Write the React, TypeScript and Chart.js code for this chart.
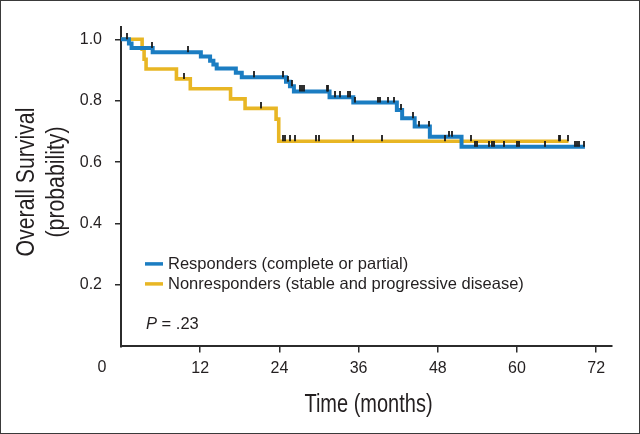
import React, { useEffect, useRef } from 'react';
import { Chart, registerables } from 'chart.js';

Chart.register(...registerables);

// Kaplan-Meier step data (months, survival probability)
const respTimes = [0, 1.2, 1.6, 4.8, 12.1, 13.5, 14.0, 14.5, 17.4, 18.3, 25.0, 25.6, 26.2, 31.6, 35.2, 41.8, 42.6, 44.5, 46.8, 51.6, 70.3];
const respSurv = [1.0, 0.986, 0.972, 0.958, 0.944, 0.930, 0.918, 0.905, 0.891, 0.876, 0.862, 0.847, 0.830, 0.811, 0.794, 0.770, 0.743, 0.716, 0.683, 0.650, 0.650];
const nonTimes = [0, 3.2, 3.5, 3.8, 8.4, 10.5, 16.6, 18.8, 23.5, 23.9, 67.8];
const nonSurv = [1.0, 0.968, 0.935, 0.903, 0.871, 0.839, 0.806, 0.775, 0.740, 0.668, 0.668];

// Censoring marks (months)
const respCensor = [0.95, 4.65, 10.1, 20.2, 24.6, 25.3, 25.9, 27.1, 27.4, 27.8, 31.2, 31.4, 32.4, 33.2, 34.4, 34.7, 35.4, 39.0, 39.2, 40.5, 41.3, 42.5, 44.3, 45.2, 46.6, 49.7, 50.2, 53.6, 54.0, 55.8, 56.2, 56.5, 58.0, 60.0, 60.3, 64.2, 68.8, 69.1, 69.4, 70.2];
const nonCensor = [9.6, 21.2, 24.6, 24.8, 25.6, 26.4, 29.5, 30.0, 35.2, 39.5, 49.1, 53.0, 66.3, 66.5, 67.8];

const xTicks = [12, 24, 36, 48, 60, 72];
const yTicks = [0.2, 0.4, 0.6, 0.8, 1.0];
const seriesLabels = ['Responders (complete or partial)', 'Nonresponders (stable and progressive disease)'];
const pLabel = 'P';
const pValue = ' = .23';
const xTitle = 'Time (months)';
const yTitle = ['Overall Survival', '(probability)'];

const BLUE = '#1b7dc2';
const YELLOW = '#e8b624';
const INK = '#231f20';
const SANS = '"Liberation Sans", Arial, sans-serif';
const SQUEEZE_Y = 0.85;
const SQUEEZE_X = 0.8;

function levelAt(times: number[], surv: number[], t: number) {
  let v = surv[0];
  for (let i = 0; i < times.length; i++) if (times[i] <= t) v = surv[i];
  return v;
}

const decor = {
  id: 'decor',
  beforeDraw(chart: any) {
    const ctx = chart.ctx;
    ctx.save();
    ctx.fillStyle = '#ffffff';
    ctx.fillRect(0, 0, chart.width, chart.height);
    ctx.restore();
  },
  afterDraw(chart: any) {
    const ctx = chart.ctx;
    const xs = chart.scales.x;
    const area = chart.chartArea;
    ctx.save();
    // "0" label at origin
    ctx.font = `16px ${SANS}`;
    ctx.fillStyle = INK;
    ctx.textAlign = 'center';
    ctx.textBaseline = 'top';
    ctx.fillText('0', xs.getPixelForValue(0) - 19, xs.top + 13);

    // axis titles (condensed look)
    ctx.font = `25px ${SANS}`;
    ctx.textBaseline = 'middle';
    ctx.save();
    ctx.translate((area.left + area.right) / 2 + 2, 405);
    ctx.scale(SQUEEZE_X, 1);
    ctx.fillText(xTitle, 0, 0);
    ctx.restore();
    const yc = 182;
    [27, 57].forEach((xc, i) => {
      ctx.save();
      ctx.translate(xc, yc);
      ctx.rotate(-Math.PI / 2);
      ctx.scale(SQUEEZE_Y, 1);
      ctx.fillText(yTitle[i], 0, 0);
      ctx.restore();
    });

    // legend
    const colors = [BLUE, YELLOW];
    const ys = [area.bottom - 82.5, area.bottom - 62.5];
    ctx.textAlign = 'left';
    ctx.textBaseline = 'middle';
    ctx.font = `16.5px ${SANS}`;
    seriesLabels.forEach((lab, i) => {
      ctx.strokeStyle = colors[i];
      ctx.lineWidth = 3.5;
      ctx.beginPath();
      ctx.moveTo(area.left + 24, ys[i]);
      ctx.lineTo(area.left + 42, ys[i]);
      ctx.stroke();
      ctx.fillStyle = INK;
      ctx.fillText(lab, area.left + 47, ys[i] + 1);
    });
    // P value
    const py = area.bottom - 21.5;
    ctx.font = `italic 16.5px ${SANS}`;
    ctx.fillText(pLabel, area.left + 25, py);
    const w = ctx.measureText(pLabel).width;
    ctx.font = `16.5px ${SANS}`;
    ctx.fillText(pValue, area.left + 25 + w, py);
    // outer frame
    ctx.strokeStyle = '#3a3a3a';
    ctx.lineWidth = 1;
    ctx.strokeRect(0.5, 0.5, chart.width - 1, chart.height - 1);
    ctx.restore();
  },
};

export default function App() {
  const ref = useRef<HTMLCanvasElement | null>(null);

  useEffect(() => {
    document.body.style.margin = '0';
    const canvas = ref.current;
    if (!canvas) return;

    const tick = document.createElement('canvas');
    tick.width = 2;
    tick.height = 12;
    const tctx = tick.getContext('2d')!;
    tctx.fillStyle = 'rgba(25,25,25,0.9)';
    tctx.fillRect(0, 0, 2, 6);

    const toPts = (t: number[], s: number[]) => t.map((x, i) => ({ x, y: s[i] }));

    const chart = new Chart(canvas, {
      type: 'line',
      data: {
        datasets: [
          {
            label: 'resp-censor',
            data: respCensor.map((x) => ({ x, y: levelAt(respTimes, respSurv, x) })),
            showLine: false,
            pointStyle: tick as any,
            pointRadius: 4,
            order: 0,
          } as any,
          {
            label: 'non-censor',
            data: nonCensor.map((x) => ({ x, y: levelAt(nonTimes, nonSurv, x) })),
            showLine: false,
            pointStyle: tick as any,
            pointRadius: 4,
            order: 0,
          } as any,
          {
            label: seriesLabels[0],
            data: toPts(respTimes, respSurv),
            borderColor: BLUE,
            borderWidth: 4,
            stepped: 'before',
            pointRadius: 0,
            fill: false,
            order: 1,
          },
          {
            label: seriesLabels[1],
            data: toPts(nonTimes, nonSurv),
            borderColor: YELLOW,
            borderWidth: 3.6,
            stepped: 'before',
            pointRadius: 0,
            fill: false,
            order: 2,
          },
        ],
      },
      options: {
        responsive: false,
        animation: false,
        events: [],
        layout: { padding: { top: 27, right: 28, left: 0, bottom: 0 } },
        plugins: { legend: { display: false }, tooltip: { enabled: false } },
        scales: {
          x: {
            type: 'linear',
            min: 0,
            max: 74.4,
            afterBuildTicks: (s: any) => {
              s.ticks = xTicks.map((v) => ({ value: v }));
            },
            afterFit: (s: any) => {
              s.height = 87.6;
            },
            ticks: {
              color: INK,
              font: { family: SANS, size: 16 },
              padding: 7,
              maxRotation: 0,
              autoSkip: false,
              callback: (v: any) => String(v),
            },
            grid: { drawOnChartArea: false, drawTicks: true, tickLength: 6, color: '#2b2b2b', lineWidth: 1.5 },
            border: { display: true, color: '#2b2b2b', width: 2 },
            title: { display: false, text: xTitle },
          },
          y: {
            type: 'linear',
            min: 0,
            max: 1.04,
            afterBuildTicks: (s: any) => {
              s.ticks = yTicks.map((v) => ({ value: v }));
            },
            afterFit: (s: any) => {
              s.width = 121;
            },
            ticks: {
              color: INK,
              font: { family: SANS, size: 16 },
              padding: 13,
              callback: (v: any) => Number(v).toFixed(1),
            },
            grid: { drawOnChartArea: false, drawTicks: true, tickLength: 6, color: '#2b2b2b', lineWidth: 1.5 },
            border: { display: true, color: '#2b2b2b', width: 2 },
            title: { display: false, text: yTitle },
          },
        },
      },
      plugins: [decor],
    } as any);

    return () => chart.destroy();
  }, []);

  return (
    <div style={{ width: 640, height: 434 }}>
      <canvas ref={ref} width={640} height={434} style={{ display: 'block' }} />
    </div>
  );
}
